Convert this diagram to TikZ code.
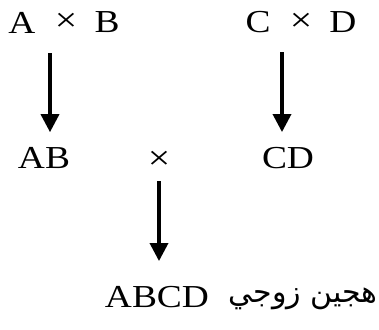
\documentclass[tikz,border=0pt]{standalone}
\usepackage{fontspec}
\setmainfont{Liberation Serif}[FakeStretch=1.17]
\newfontfamily\arabicfont[Script=Arabic]{DejaVu Sans}
\TeXXeTstate=1
\usetikzlibrary{arrows.meta}

\begin{document}
\begin{tikzpicture}[x=1pt, y=-1pt,
    lbl/.style={font=\fontsize{32}{36}\selectfont, inner sep=0pt},
    cross/.style={font=\fontsize{34}{38}\selectfont, inner sep=0pt},
    down/.style={line width=3.5pt, -{Triangle[width=18pt,length=18pt]}}]

  \useasboundingbox (0,0) rectangle (379,329);

  % 親 A x B
  \node [lbl] (A) at (22,22.5) {A};
  \node [cross] (x1) at (66,22.5) {×};
  \node [lbl] (B) at (107,22.5) {B};

  % 親 C x D
  \node [lbl] (C) at (258,22.5) {C};
  \node [cross] (x2) at (301,22.5) {×};
  \node [lbl] (D) at (343,22.5) {D};

  % 子 AB x CD
  \node [lbl] (AB) at (44,158) {AB};
  \node [cross] (x3) at (159,160) {×};
  \node [lbl] (CD) at (288,158) {CD};

  % 二重交雑
  \node [lbl] (ABCD) at (157,297) {ABCD};
  \node [font=\fontsize{30}{34}\arabicfont, inner sep=0pt, anchor=east] (hybrid) at (378,299) {\beginR هجين زوجي\endR};

  % 矢印
  \coordinate (s1) at (50,53);
  \coordinate (s2) at (282,52);
  \coordinate (s3) at (159,181);
  \draw [down, shorten >=15pt] (s1) -- (s1 |- AB.north);
  \draw [down, shorten >=15pt] (s2) -- (s2 |- CD.north);
  \draw [down, shorten >=25pt] (s3) -- (s3 |- ABCD.north);

\end{tikzpicture}
\end{document}
